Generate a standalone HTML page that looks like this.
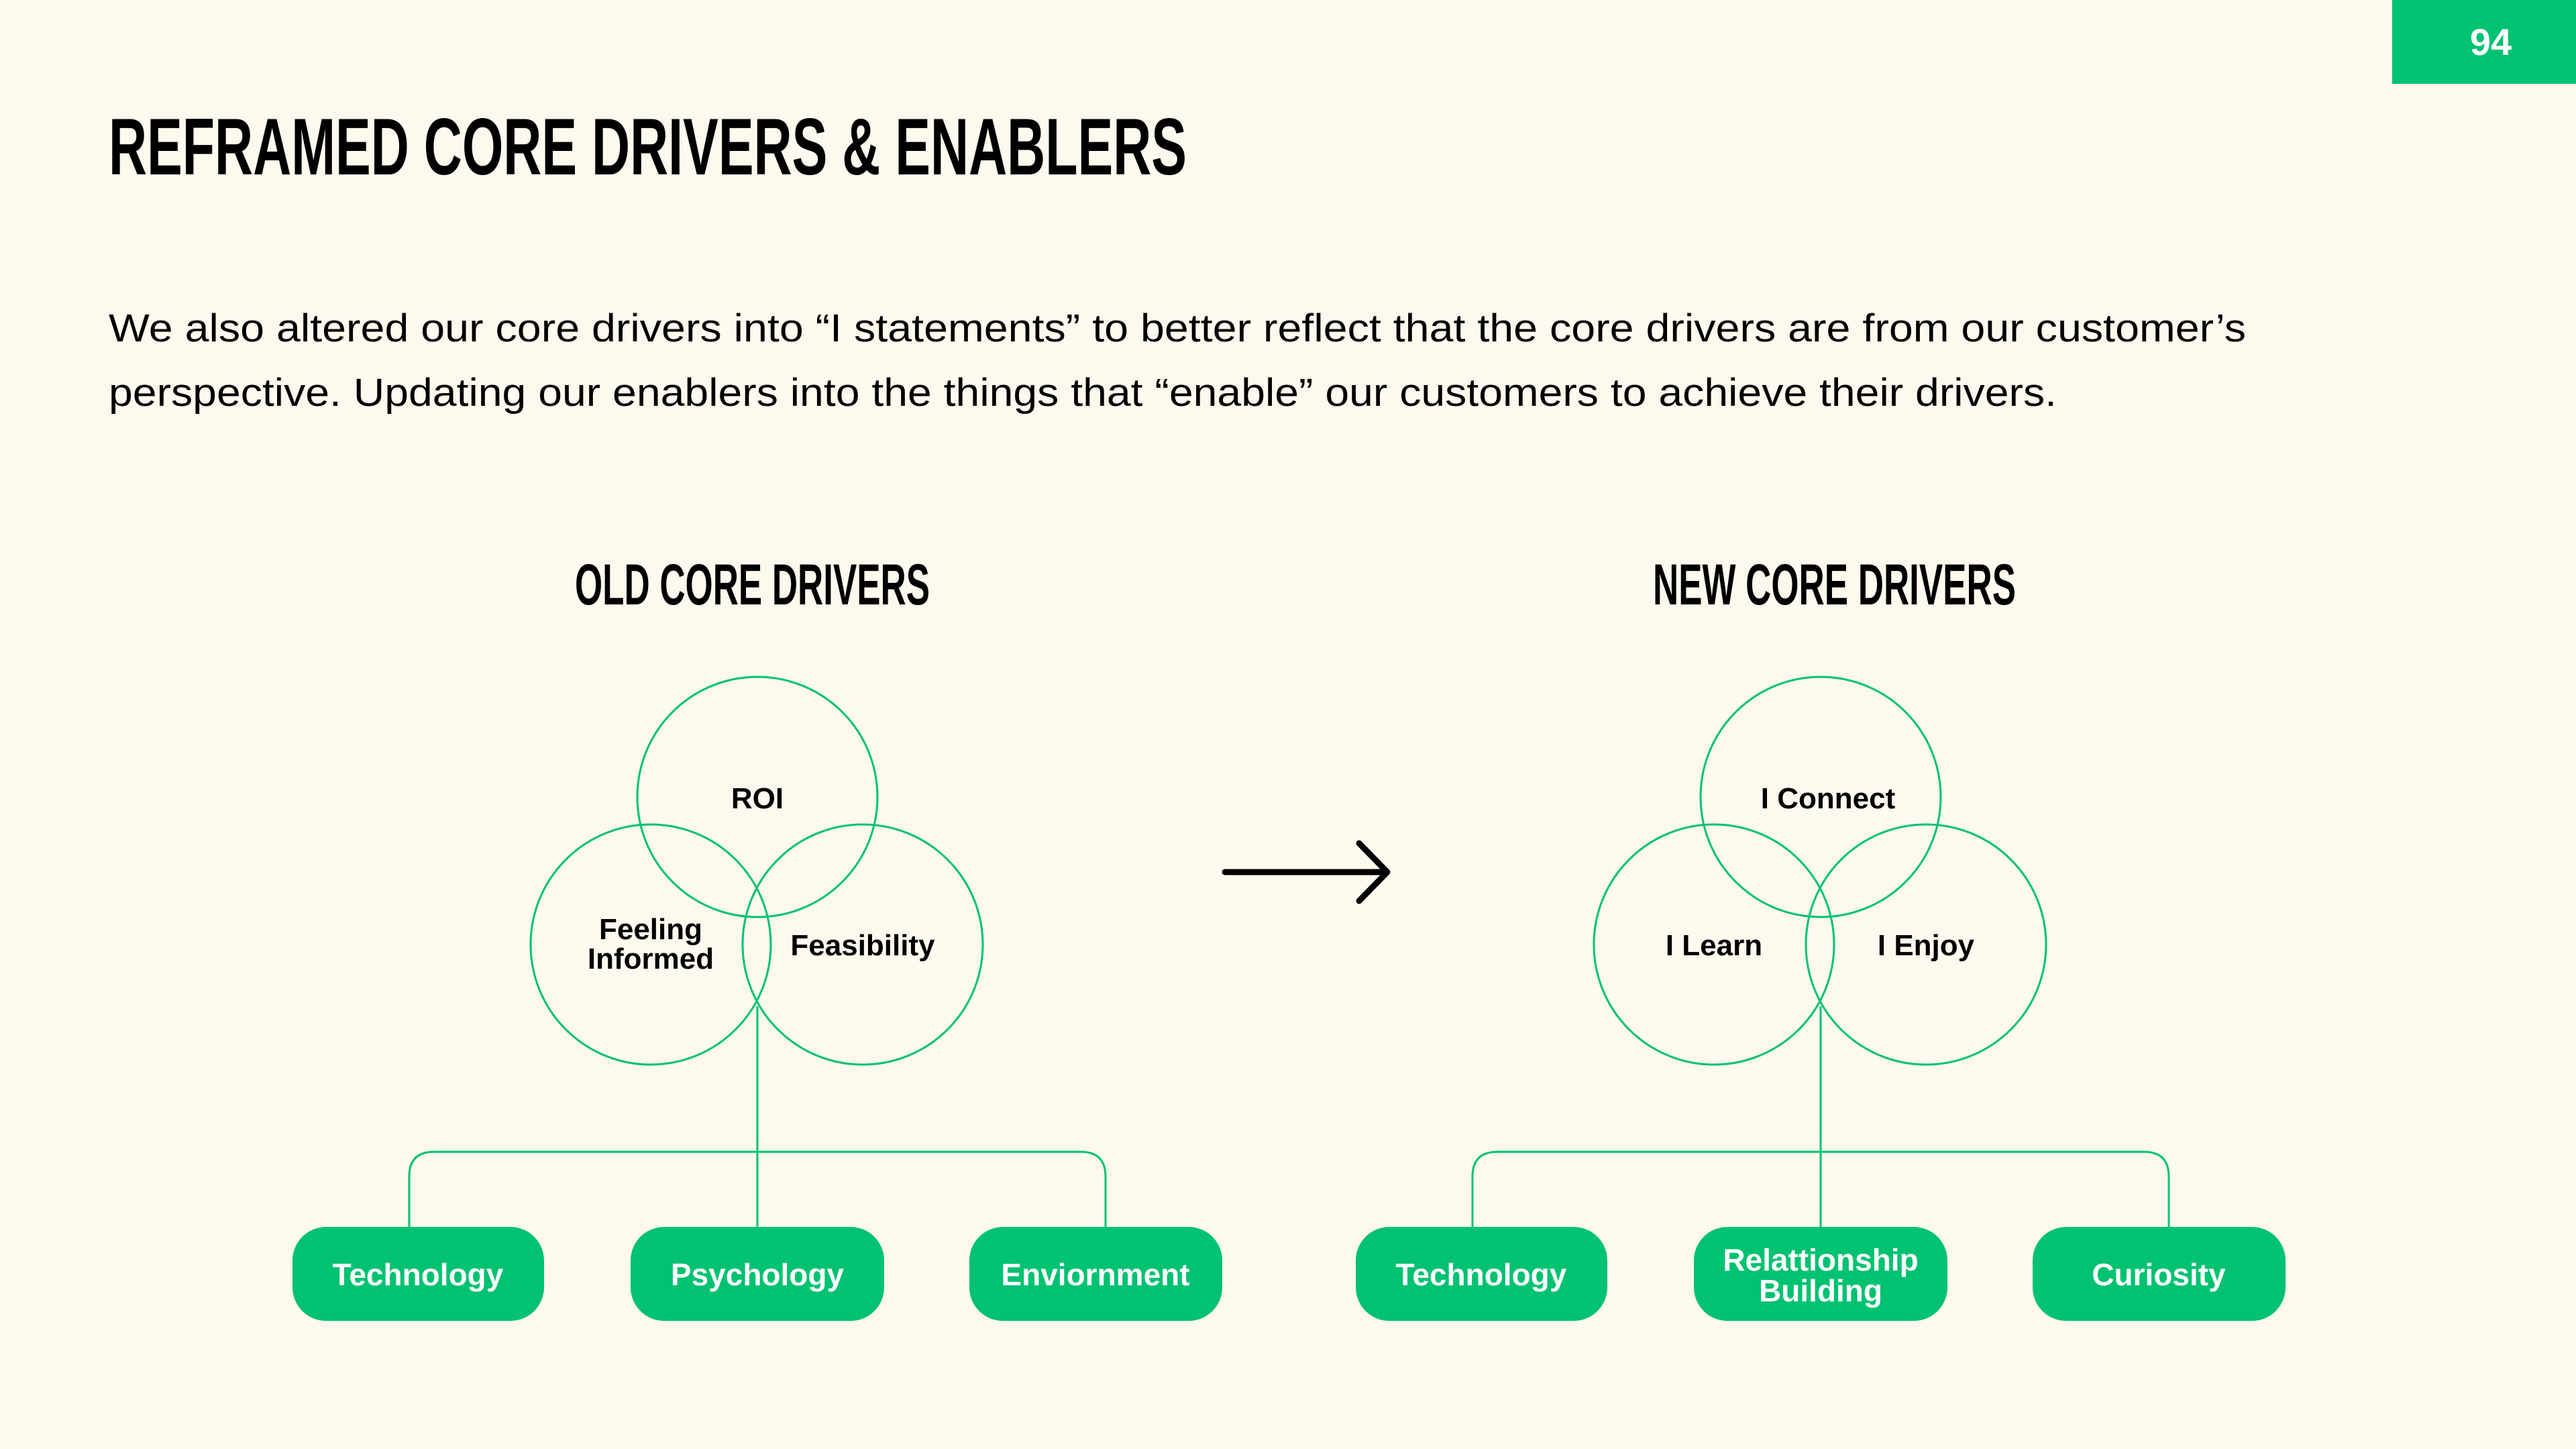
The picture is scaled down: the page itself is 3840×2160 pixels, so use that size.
<!DOCTYPE html>
<html><head><meta charset="utf-8"><style>
html,body{margin:0;padding:0;background:#FDF9EE;}
svg{display:block}
text{font-family:"Liberation Sans",sans-serif;}
</style></head><body>
<svg width="3840" height="2160" viewBox="0 0 3840 2160" xmlns="http://www.w3.org/2000/svg">
<rect width="3840" height="2160" fill="#FDF9EE"/>
<rect x="3566" y="0" width="274" height="125" fill="#00C271"/>
<text x="3713" y="82" font-size="56" font-weight="bold" fill="#fff" text-anchor="middle">94</text>
<text x="162" y="260" font-size="120" font-weight="bold" fill="#000" textLength="1607" lengthAdjust="spacingAndGlyphs">REFRAMED CORE DRIVERS &amp; ENABLERS</text>
<text x="162" y="509" font-size="58" fill="#000" textLength="3186" lengthAdjust="spacingAndGlyphs">We also altered our core drivers into “I statements” to better reflect that the core drivers are from our customer’s</text>
<text x="162" y="605" font-size="58" fill="#000" textLength="2904" lengthAdjust="spacingAndGlyphs">perspective. Updating our enablers into the things that “enable” our customers to achieve their drivers.</text>
<text x="857" y="901" font-size="86" font-weight="bold" fill="#000" textLength="529" lengthAdjust="spacingAndGlyphs">OLD CORE DRIVERS</text>
<text x="2464" y="901" font-size="86" font-weight="bold" fill="#000" textLength="541" lengthAdjust="spacingAndGlyphs">NEW CORE DRIVERS</text>

<g fill="none" stroke="#00C271" stroke-width="3">
<circle cx="1129" cy="1188" r="179"/><circle cx="970" cy="1408" r="179"/><circle cx="1286" cy="1408" r="179"/>
<path d="M1129 1500 V1829 M610 1829 V1754 Q610 1717 647 1717 H1611 Q1648 1717 1648 1754 V1829"/>
<circle cx="2714" cy="1188" r="179"/><circle cx="2555" cy="1408" r="179"/><circle cx="2871" cy="1408" r="179"/>
<path d="M2714 1500 V1829 M2195 1829 V1754 Q2195 1717 2232 1717 H3196 Q3233 1717 3233 1754 V1829"/>
</g>
<g fill="none" stroke="#000" stroke-width="9" stroke-linecap="round" stroke-linejoin="round">
<path d="M1826 1300 H2066 M2026 1257 L2068 1300 L2026 1343"/>
</g>

<g font-size="44" fill="#000" text-anchor="middle" font-weight="bold">
<text x="1129" y="1205">ROI</text>
<text x="970" y="1400">Feeling</text>
<text x="970" y="1444">Informed</text>
<text x="1286" y="1424">Feasibility</text>
<text x="2725" y="1205">I Connect</text>
<text x="2555" y="1424">I Learn</text>
<text x="2871" y="1424">I Enjoy</text>
</g>

<g fill="#00C271">
<rect x="436" y="1829" width="375" height="140" rx="50"/>
<rect x="940" y="1829" width="378" height="140" rx="50"/>
<rect x="1445" y="1829" width="377" height="140" rx="50"/>
<rect x="2021" y="1829" width="375" height="140" rx="50"/>
<rect x="2525" y="1829" width="378" height="140" rx="50"/>
<rect x="3030" y="1829" width="377" height="140" rx="50"/>
</g>
<g font-size="46" fill="#fff" text-anchor="middle" font-weight="bold">
<text x="623" y="1916">Technology</text>
<text x="1129" y="1916">Psychology</text>
<text x="1633" y="1916">Enviornment</text>
<text x="2208" y="1916">Technology</text>
<text x="2714" y="1894">Relattionship</text>
<text x="2714" y="1940">Building</text>
<text x="3218" y="1916">Curiosity</text>
</g>
</svg>
</body></html>
